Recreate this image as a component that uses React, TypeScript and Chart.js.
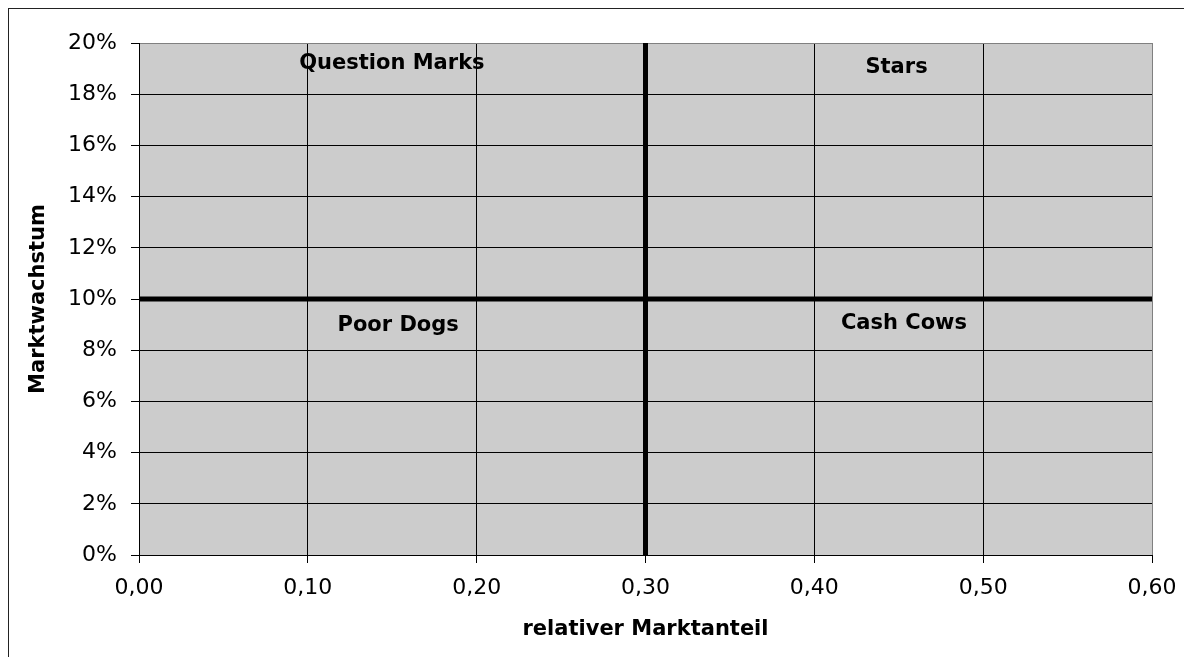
import React, { useEffect, useRef } from "react";
import { Chart, registerables } from "chart.js";

Chart.register(...registerables);

// Axis ticks
const xTicks = [0, 0.1, 0.2, 0.3, 0.4, 0.5, 0.6];
const yTicks = [0, 0.02, 0.04, 0.06, 0.08, 0.1, 0.12, 0.14, 0.16, 0.18, 0.2];

// Quadrant divider lines
const dividerX = 0.3;
const dividerY = 0.1;

// Quadrant labels
const quadrantLabels = ["Question Marks", "Stars", "Poor Dogs", "Cash Cows"];
const labelX = [0.1498, 0.4487, 0.1535, 0.4531];
const labelY = [0.1919, 0.1905, 0.0898, 0.0905];

const xTitle = "relativer Marktanteil";
const yTitle = "Marktwachstum";

const CANVAS_W = 1183;
const CANVAS_H = 648;

export default function App() {
  const ref = useRef<HTMLCanvasElement | null>(null);

  useEffect(() => {
    if (!ref.current) return;

    const bgPlugin = {
      id: "plotBg",
      beforeDraw(chart: any) {
        const { ctx, chartArea } = chart;
        if (!chartArea) return;
        ctx.save();
        ctx.fillStyle = "#cccccc";
        ctx.fillRect(
          chartArea.left,
          chartArea.top,
          chartArea.right - chartArea.left,
          chartArea.bottom - chartArea.top
        );
        ctx.restore();
      },
    };

    const labelPlugin = {
      id: "quadLabels",
      afterDatasetsDraw(chart: any) {
        const { ctx } = chart;
        const meta = chart.getDatasetMeta(2);
        ctx.save();
        ctx.font = "bold 21px 'DejaVu Sans', Verdana, sans-serif";
        ctx.fillStyle = "#000";
        ctx.textAlign = "center";
        ctx.textBaseline = "middle";
        meta.data.forEach((el: any, i: number) => {
          ctx.fillText(quadrantLabels[i], el.x, el.y);
        });
        ctx.restore();
      },
    };

    const tickFont = { family: "'DejaVu Sans', Verdana, sans-serif", size: 22 };
    const titleFont = {
      family: "'DejaVu Sans', Verdana, sans-serif",
      size: 21,
      weight: "bold" as const,
    };

    const chart = new Chart(ref.current, {
      type: "scatter",
      data: {
        datasets: [
          {
            label: "vertical",
            data: [
              { x: dividerX, y: yTicks[0] },
              { x: dividerX, y: yTicks[yTicks.length - 1] },
            ],
            showLine: true,
            borderColor: "#000",
            borderWidth: 5,
            pointRadius: 0,
          },
          {
            label: "horizontal",
            data: [
              { x: xTicks[0], y: dividerY },
              { x: xTicks[xTicks.length - 1], y: dividerY },
            ],
            showLine: true,
            borderColor: "#000",
            borderWidth: 5,
            pointRadius: 0,
          },
          {
            label: "labels",
            data: labelX.map((x, i) => ({ x, y: labelY[i] })),
            pointRadius: 0,
            showLine: false,
          },
        ],
      },
      options: {
        animation: false,
        responsive: false,
        layout: { padding: { top: 34, right: 40, left: 0, bottom: 0 } },
        plugins: {
          legend: { display: false },
          tooltip: { enabled: false },
        },
        scales: {
          x: {
            type: "linear",
            min: xTicks[0],
            max: xTicks[xTicks.length - 1],
            afterBuildTicks(scale: any) {
              scale.ticks = xTicks.map((v) => ({ value: v }));
            },
            afterFit(scale: any) {
              scale.height = 102;
            },
            ticks: {
              color: "#000",
              font: tickFont,
              padding: 12,
              maxRotation: 0,
              callback: (v: any) => Number(v).toFixed(2).replace(".", ","),
            },
            grid: {
              color: (ctx: any) =>
                ctx.tick && Math.abs(ctx.tick.value - 0.6) < 1e-9 ? "#808080" : "#000",
              lineWidth: 1,
              tickLength: 8,
              tickColor: "#000",
              drawTicks: true,
            },
            border: { display: true, color: "#000", width: 1 },
            title: {
              display: true,
              text: xTitle,
              color: "#000",
              font: titleFont,
              padding: { top: 0, bottom: 15 },
            },
          },
          y: {
            type: "linear",
            min: yTicks[0],
            max: yTicks[yTicks.length - 1],
            afterBuildTicks(scale: any) {
              scale.ticks = yTicks.map((v) => ({ value: v }));
            },
            afterFit(scale: any) {
              scale.width = 130;
            },
            ticks: {
              color: "#000",
              font: tickFont,
              padding: 14,
              callback: (v: any) => Math.round(Number(v) * 100) + "%",
            },
            grid: {
              color: (ctx: any) =>
                ctx.tick && Math.abs(ctx.tick.value - 0.2) < 1e-9 ? "#808080" : "#000",
              lineWidth: 1,
              tickLength: 8,
              tickColor: "#000",
              drawTicks: true,
            },
            border: { display: true, color: "#000", width: 1 },
            title: {
              display: true,
              text: yTitle,
              color: "#000",
              font: titleFont,
              padding: { top: 17, bottom: 0 },
            },
          },
        },
      },
      plugins: [bgPlugin, labelPlugin],
    });

    return () => chart.destroy();
  }, []);

  return (
    <div
      style={{
        borderLeft: "1px solid #222",
        borderTop: "1px solid #222",
        width: CANVAS_W,
        height: CANVAS_H,
        background: "#fff",
      }}
    >
      <canvas
        ref={ref}
        width={CANVAS_W}
        height={CANVAS_H}
        style={{ display: "block", width: CANVAS_W, height: CANVAS_H }}
      />
    </div>
  );
}
